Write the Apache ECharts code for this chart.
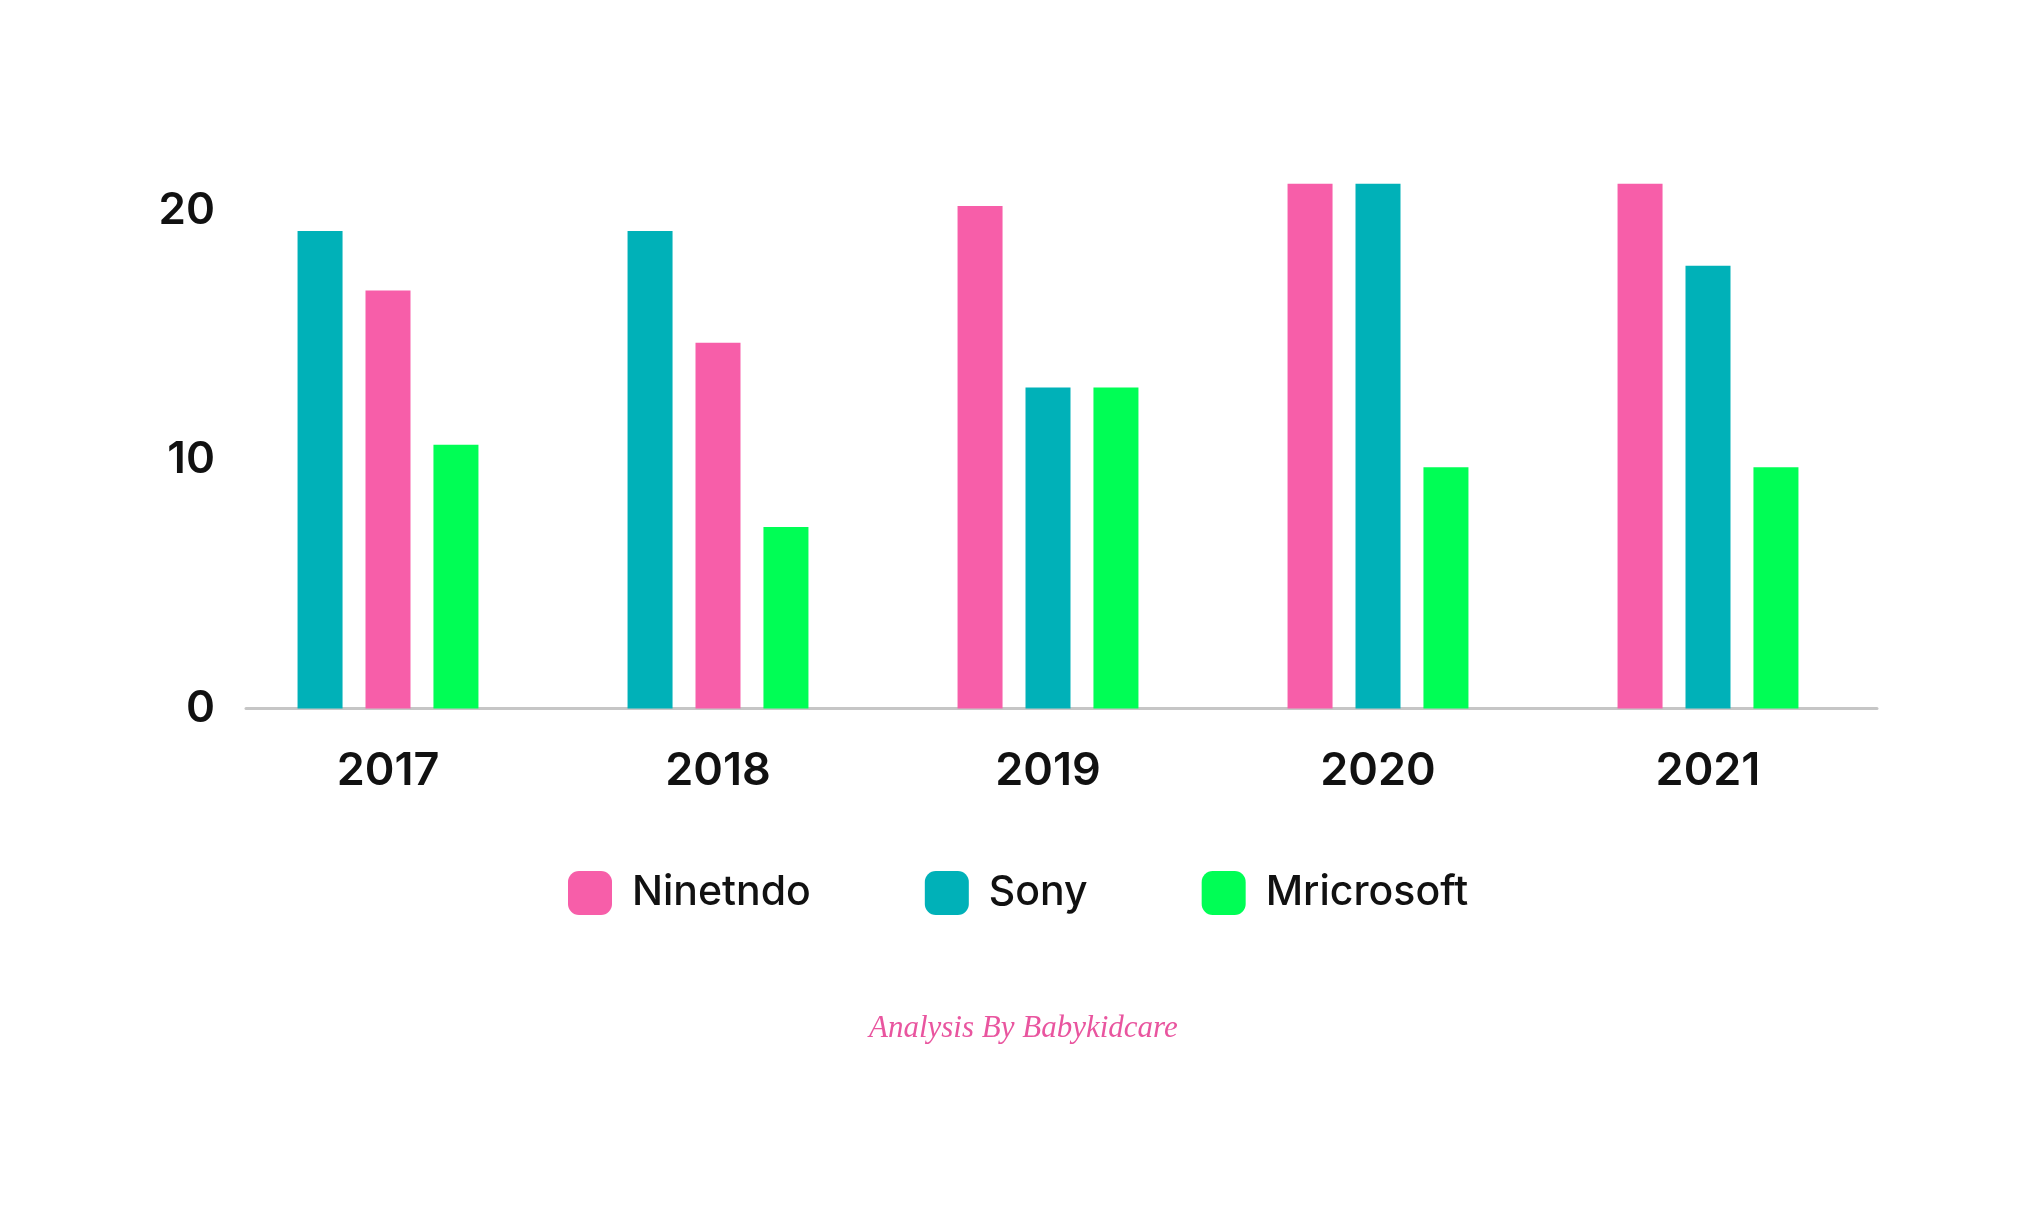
<!DOCTYPE html>
<html>
<head>
<meta charset="utf-8">
<script src="https://cdn.jsdelivr.net/npm/echarts@6/dist/echarts.min.js"></script>
<style>
  html, body { margin: 0; padding: 0; background: #ffffff; }
  #chart { width: 2023px; height: 1228px; }
</style>
</head>
<body>
<div id="chart"></div>
<script>
// ---- data ----
const categories = ['2017', '2018', '2019', '2020', '2021'];
const nintendo  = [16.8, 14.7, 20.2, 21.1, 21.1];
const sony      = [19.2, 19.2, 12.9, 21.1, 17.8];
const microsoft = [10.6, 7.3, 12.9, 9.7, 9.7];
// bar order inside each year group, as drawn in the reference
const barOrder = [
  ['Sony', 'Ninetndo', 'Mricrosoft'],
  ['Sony', 'Ninetndo', 'Mricrosoft'],
  ['Ninetndo', 'Sony', 'Mricrosoft'],
  ['Ninetndo', 'Sony', 'Mricrosoft'],
  ['Ninetndo', 'Sony', 'Mricrosoft']
];
const legendNames = ['Ninetndo', 'Sony', 'Mricrosoft'];
const yTicks = [0, 10, 20];
const footer = 'Analysis By Babykidcare';

// ---- styles ----
const COLORS = { Ninetndo: '#F75EA9', Sony: '#00B1B8', Mricrosoft: '#00FE55' };
const values = { Ninetndo: nintendo, Sony: sony, Mricrosoft: microsoft };
const FONT = 'Inter, "Noto Sans", sans-serif';

const slotSeries = [0, 1, 2].map(function (slot) {
  return {
    type: 'bar',
    name: 'slot' + (slot + 1),
    xAxisIndex: 0,
    yAxisIndex: 0,
    barWidth: 45,
    barGap: '51%',
    data: categories.map(function (c, i) {
      const co = barOrder[i][slot];
      return { value: values[co][i], name: co, itemStyle: { color: COLORS[co] } };
    })
  };
});

// legend-only series (empty) on the helper grid
const legendSeries = legendNames.map(function (n) {
  return {
    type: 'bar',
    name: n,
    xAxisIndex: 1,
    yAxisIndex: 1,
    itemStyle: { color: COLORS[n] },
    data: []
  };
});

const chart = echarts.init(document.getElementById('chart'), null, { renderer: 'canvas' });
chart.setOption({
  backgroundColor: '#ffffff',
  animation: false,
  title: {
    text: footer,
    left: 864,
    top: 1008,
    textStyle: {
      fontFamily: '"Liberation Serif", serif',
      fontStyle: 'italic',
      fontWeight: 'normal',
      fontSize: 31,
      color: '#E9559F'
    }
  },
  legend: {
    data: legendNames,
    orient: 'horizontal',
    left: 568,
    top: 871,
    padding: 0,
    itemWidth: 44,
    itemHeight: 44,
    itemGap: 114,
    icon: 'roundRect',
    textStyle: {
      fontFamily: FONT,
      fontSize: 41,
      fontWeight: 500,
      color: '#111111',
      padding: [10, 0, 0, 15]
    }
  },
  grid: [
    { left: 223, right: 150, top: 161.25, bottom: 519.5, containLabel: false },
    { left: 246, right: 146, top: 161.25, bottom: 519.5, containLabel: false }
  ],
  xAxis: [
    {
      gridIndex: 0,
      type: 'category',
      data: categories,
      axisLine: { show: false },
      axisTick: { show: false },
      axisLabel: {
        margin: 40,
        fontFamily: FONT,
        fontSize: 45,
        fontWeight: 600,
        color: '#111111'
      }
    },
    {
      gridIndex: 1,
      type: 'category',
      data: categories,
      axisLine: { show: true, lineStyle: { color: '#C6C6C6', width: 3 } },
      axisTick: { show: false },
      axisLabel: { show: false }
    }
  ],
  yAxis: [
    {
      gridIndex: 0,
      type: 'value',
      min: 0,
      max: 22,
      interval: 10,
      splitLine: { show: false },
      axisLine: { show: false },
      axisTick: { show: false },
      axisLabel: {
        margin: 8,
        padding: [12, 0, 0, 0],
        fontFamily: FONT,
        fontSize: 44,
        fontWeight: 600,
        color: '#111111',
        formatter: function (v) { return yTicks.indexOf(v) >= 0 ? String(v) : ''; }
      }
    },
    {
      gridIndex: 1,
      type: 'value',
      min: 0,
      max: 22,
      show: false
    }
  ],
  series: slotSeries.concat(legendSeries)
});
</script>
</body>
</html>
